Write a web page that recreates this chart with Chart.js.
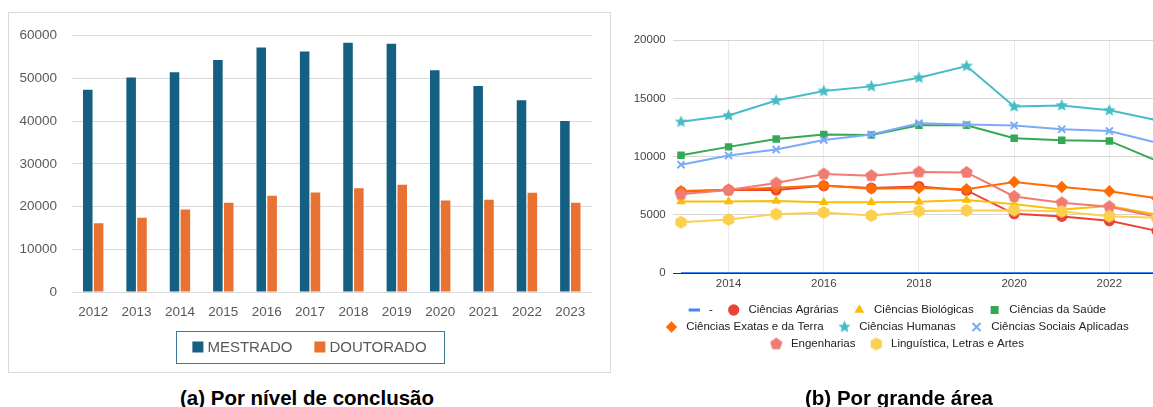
<!DOCTYPE html>
<html>
<head>
<meta charset="utf-8">
<script src="https://cdn.jsdelivr.net/npm/chart.js@4.4.1/dist/chart.umd.min.js"></script>
<style>
html, body { margin: 0; padding: 0; background: #fff; overflow: hidden; }
body { width: 1153px; height: 407px; position: relative; font-family: "Liberation Sans", Arial, sans-serif; }
#boxA { position: absolute; left: 8px; top: 12px; width: 603px; height: 361px; border: 1px solid #d9d9d9; box-sizing: border-box; }
#chartA { position: absolute; left: 9px; top: 13px; }
#chartB { position: absolute; left: 620px; top: 0; }
.cap { position: absolute; top: 388px; font: bold 20.5px "Liberation Sans", Arial, sans-serif; line-height: 20px; color: #000; white-space: nowrap; transform: translateX(-50%); }
</style>
</head>
<body>
<div id="boxA"></div>
<canvas id="chartA" width="601" height="359"></canvas>
<canvas id="chartB" width="564" height="407"></canvas>
<div class="cap" style="left:307px">(a) Por nível de conclusão</div>
<div class="cap" style="left:899px">(b) Por grande área</div>

<script>
// (a) conclusões por nível
const anos = ['2012', '2013', '2014', '2015', '2016', '2017', '2018', '2019', '2020', '2021', '2022', '2023'];
const mestrado = [47300, 50200, 51400, 54300, 57200, 56300, 58300, 58100, 51900, 48200, 44900, 40000];
const doutorado = [16100, 17400, 19300, 20900, 22500, 23300, 24300, 25100, 21400, 21600, 23200, 20900];
const ticksA = [0, 10000, 20000, 30000, 40000, 50000, 60000];

// (b) conclusões por grande área
const anosB = [2013, 2014, 2015, 2016, 2017, 2018, 2019, 2020, 2021, 2022, 2023];
const traco = [0, 0, 0, 0, 0, 0, 0, 0, 0, 0, 0];
const agrarias = [6990, 7130, 7130, 7500, 7300, 7440, 7100, 5090, 4860, 4490, 3620];
const biologicas = [6150, 6150, 6180, 6090, 6090, 6120, 6270, 5920, 5460, 5750, 5000];
const saude = [10120, 10840, 11520, 11900, 11870, 12700, 12700, 11580, 11410, 11350, 9640];
const exatas = [7040, 7160, 7330, 7530, 7250, 7300, 7200, 7820, 7390, 7030, 6420];
const humanas = [12990, 13540, 14830, 15640, 16040, 16780, 17790, 14310, 14400, 13980, 13130];
const sociais = [9310, 10090, 10610, 11440, 11900, 12870, 12760, 12670, 12360, 12210, 11190];
const engenharias = [6760, 7130, 7730, 8510, 8360, 8680, 8640, 6580, 6040, 5700, 4810];
const linguistica = [4370, 4600, 5060, 5200, 4940, 5320, 5380, 5400, 5290, 4880, 4740];
const ticksXB = [2014, 2016, 2018, 2020, 2022];
const ticksYB = [0, 5000, 10000, 15000, 20000];

const fonte = '"Liberation Sans", Arial, sans-serif';

// legenda com moldura do gráfico (a)
const legendaCaixa = {
    id: 'legendaCaixa',
    afterDraw(chart) {
        const ctx = chart.ctx;
        const ds = chart.data.datasets;
        ctx.save();
        ctx.font = '15px ' + fonte;
        const sq = 11, gapTxt = 4, gapItem = 22;
        const larg = ds.map(d => sq + gapTxt + ctx.measureText(d.label).width);
        const total = larg.reduce((a, b) => a + b, 0) + gapItem * (ds.length - 1);
        const cx = chart.width / 2;
        const yMid = 334;
        ctx.strokeStyle = '#3f7896';
        ctx.lineWidth = 1;
        ctx.strokeRect(Math.round(cx - 134) + 0.5, 318.5, 268, 32);
        let x = cx - total / 2;
        ctx.textBaseline = 'middle';
        ds.forEach((d, i) => {
            ctx.fillStyle = d.backgroundColor;
            ctx.fillRect(x, yMid - 5.5, sq, sq);
            ctx.fillStyle = '#595959';
            ctx.fillText(d.label, x + sq + gapTxt, yMid + 0.5);
            x += larg[i] + gapItem;
        });
        ctx.restore();
    }
};

new Chart(document.getElementById('chartA'), {
    type: 'bar',
    data: {
        labels: anos,
        datasets: [
            { label: 'MESTRADO', data: mestrado, backgroundColor: '#156082' },
            { label: 'DOUTORADO', data: doutorado, backgroundColor: '#e97132' }
        ]
    },
    options: {
        responsive: false,
        animation: false,
        categoryPercentage: 0.5,
        barPercentage: 0.88,
        layout: { autoPadding: false, padding: { top: 17.7, right: 18, bottom: 52, left: 0 } },
        plugins: { legend: { display: false }, tooltip: { enabled: false } },
        scales: {
            x: {
                afterFit: s => { s.height = 28; },
                grid: { display: false, drawTicks: false },
                border: { display: false },
                ticks: { color: '#595959', font: { size: 13.5, family: fonte }, padding: 12 }
            },
            y: {
                min: 0,
                max: 60000,
                afterBuildTicks: s => { s.ticks = ticksA.map(v => ({ value: v })); },
                afterFit: s => { s.width = 62.5; },
                grid: { color: '#d9d9d9', drawTicks: false },
                border: { display: false },
                ticks: { color: '#595959', font: { size: 13.5, family: fonte }, padding: 14.5, callback: v => String(v) }
            }
        }
    },
    plugins: [legendaCaixa]
});

// marcadores que o Chart.js não tem
function forma(lados, raio, cor, interno) {
    const c = document.createElement('canvas');
    const s = Math.ceil(raio * 2 + 2);
    c.width = s;
    c.height = s;
    const g = c.getContext('2d');
    g.fillStyle = cor;
    g.beginPath();
    const n = interno ? lados * 2 : lados;
    for (let i = 0; i < n; i++) {
        const r = interno && i % 2 ? raio * interno : raio;
        const a = -Math.PI / 2 + i * Math.PI * 2 / n;
        const px = s / 2 + r * Math.cos(a), py = s / 2 + r * Math.sin(a);
        if (i) g.lineTo(px, py); else g.moveTo(px, py);
    }
    g.closePath();
    g.fill();
    return c;
}

const estrela = forma(5, 6.5, '#46bdc6', 0.45);
const pentagono = forma(5, 6.5, '#f07b72');
const hexagono = forma(6, 6.5, '#fcd04f');

function serie(label, valores, cor, estilo, raio, borda) {
    return {
        label: label,
        data: anosB.map((a, i) => ({ x: a, y: valores[i] })),
        borderColor: cor,
        backgroundColor: cor,
        borderWidth: 2,
        pointStyle: estilo,
        pointRadius: raio,
        pointBackgroundColor: cor,
        pointBorderColor: cor,
        pointBorderWidth: borda,
        tension: 0
    };
}

const seriesB = [
    serie('-', traco, '#4285f4', 'line', 0, 3),
    serie('Ciências Agrárias', agrarias, '#ea4335', 'circle', 5.5, 0),
    serie('Ciências Biológicas', biologicas, '#fbbc04', 'triangle', 5.5, 0),
    serie('Ciências da Saúde', saude, '#34a853', 'rect', 5.3, 0),
    serie('Ciências Exatas e da Terra', exatas, '#ff6d01', 'rectRot', 6.2, 0),
    serie('Ciências Humanas', humanas, '#46bdc6', estrela, 6, 0),
    serie('Ciências Sociais Aplicadas', sociais, '#7baaf7', 'crossRot', 5, 2),
    serie('Engenharias', engenharias, '#f07b72', pentagono, 6, 0),
    serie('Linguística, Letras e Artes', linguistica, '#fcd04f', hexagono, 6, 0)
];
seriesB.forEach((d, i) => { d.order = -i; });

new Chart(document.getElementById('chartB'), {
    type: 'line',
    data: { datasets: seriesB },
    options: {
        responsive: false,
        animation: false,
        layout: { autoPadding: false, padding: { top: 40.3, right: 0, bottom: 47.25, left: 0 } },
        plugins: {
            tooltip: { enabled: false },
            legend: {
                position: 'bottom',
                labels: {
                    usePointStyle: true,
                    boxHeight: 8,
                    padding: 5.5,
                    color: '#222',
                    font: { size: 11.5, family: fonte },
                    generateLabels(chart) {
                        const itens = Chart.defaults.plugins.legend.labels.generateLabels(chart);
                        itens.sort((a, b) => a.datasetIndex - b.datasetIndex);
                        itens.forEach(it => { it.text = ' ' + it.text + '   '; });
                        return itens;
                    }
                }
            }
        },
        scales: {
            x: {
                type: 'linear',
                min: 2012.826,
                max: 2023.568,
                afterBuildTicks: s => { s.ticks = ticksXB.map(v => ({ value: v })); },
                afterFit: s => { s.height = 25.75; },
                grid: { color: '#ebebeb', drawTicks: false },
                border: { display: false },
                ticks: { color: '#444', font: { size: 11.5, family: fonte }, padding: 4, callback: v => String(v) }
            },
            y: {
                min: 0,
                max: 20000,
                afterBuildTicks: s => { s.ticks = ticksYB.map(v => ({ value: v })); },
                afterFit: s => { s.width = 52.7; },
                grid: { color: c => (c.tick && c.tick.value === 0 ? '#333' : '#d6d6d6'), drawTicks: false },
                border: { display: false },
                ticks: { color: '#444', font: { size: 11.5, family: fonte }, padding: 7, callback: v => String(v) }
            }
        }
    }
});
</script>
</body>
</html>
